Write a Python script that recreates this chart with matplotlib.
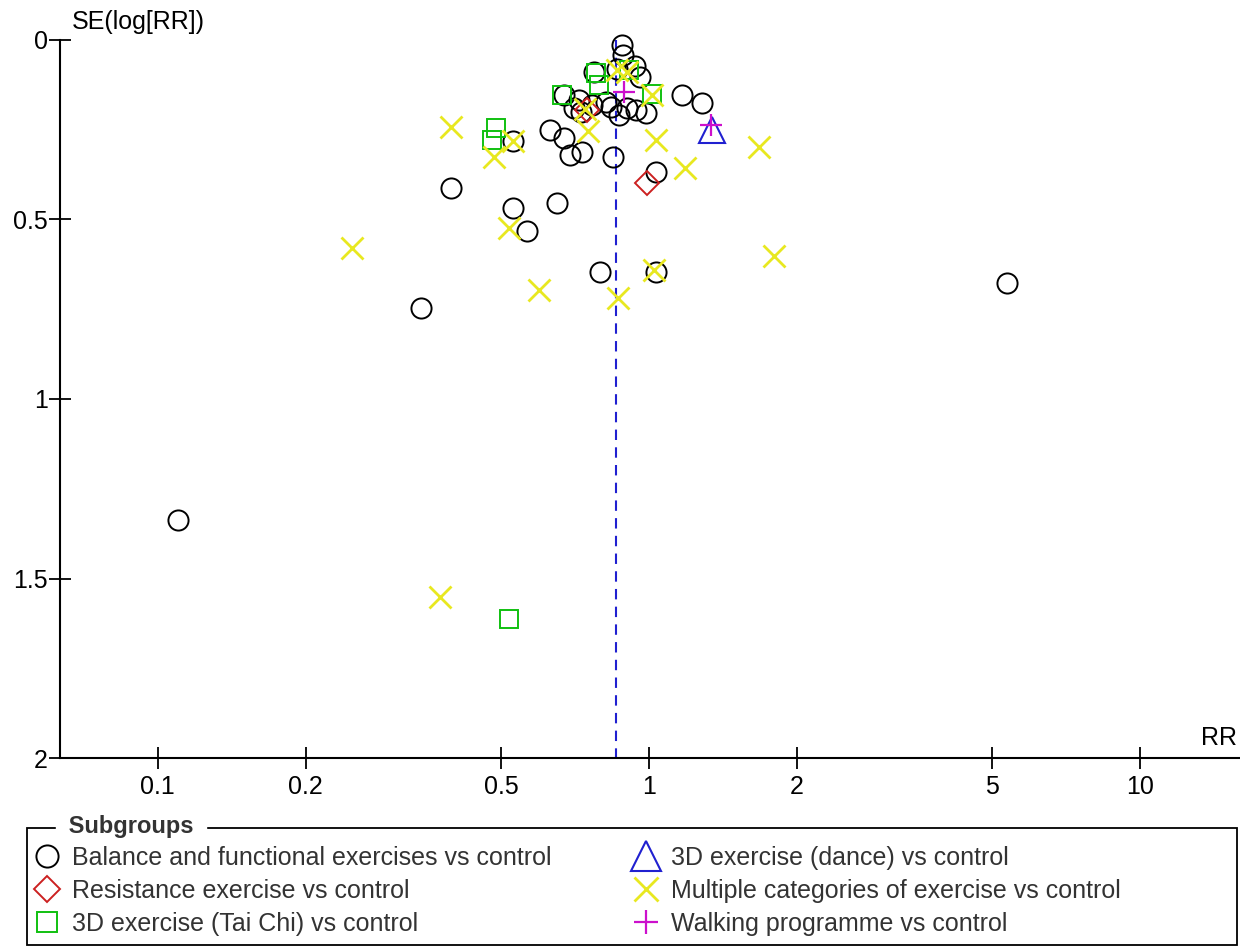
import matplotlib.pyplot as plt
from matplotlib.patches import Rectangle
from matplotlib.lines import Line2D

plt.rcParams['font.family'] = ['Liberation Sans', 'DejaVu Sans']

# risk ratios (RR) and standard errors of log RR per subgroup
balance_rr = [0.881, 0.885, 0.937, 0.959, 0.773, 0.672, 0.721, 0.704, 0.727, 0.766,
              0.818, 0.837, 0.869, 0.902, 0.941, 0.986, 1.167, 1.281, 0.629, 0.672,
              0.691, 0.731, 0.845, 1.033, 0.396, 0.650, 0.529, 0.565, 0.795, 1.033,
              0.344, 0.1098, 5.366, 0.529, 0.860]
balance_se = [0.015, 0.042, 0.072, 0.103, 0.089, 0.153, 0.167, 0.189, 0.201, 0.181,
              0.173, 0.187, 0.209, 0.189, 0.195, 0.203, 0.153, 0.175, 0.251, 0.273,
              0.320, 0.312, 0.326, 0.368, 0.412, 0.454, 0.468, 0.532, 0.646, 0.646,
              0.747, 1.337, 0.677, 0.281, 0.080]

resist_rr = [0.748, 0.991]
resist_se = [0.195, 0.398]

taichi_rr = [0.780, 0.791, 0.911, 1.014, 0.665, 0.489, 0.480, 0.519]
taichi_se = [0.092, 0.125, 0.084, 0.150, 0.153, 0.245, 0.279, 1.613]

dance_rr = [1.343]
dance_se = [0.250]

multi_rr = [0.396, 0.484, 0.529, 0.751, 0.740, 0.861, 0.902, 1.014, 1.033, 1.184,
            1.674, 1.795, 0.248, 0.519, 0.598, 0.865, 1.024, 0.376]
multi_se = [0.242, 0.326, 0.281, 0.253, 0.192, 0.084, 0.089, 0.153, 0.279, 0.357,
            0.298, 0.602, 0.579, 0.524, 0.696, 0.719, 0.641, 1.552]

walk_rr = [0.890, 1.337]
walk_se = [0.145, 0.237]

pooled_rr = 0.857

x_ticks = [0.1, 0.2, 0.5, 1, 2, 5, 10]
x_labels = ['0.1', '0.2', '0.5', '1', '2', '5', '10']
y_ticks = [0, 0.5, 1, 1.5, 2]
y_labels = ['0', '0.5', '1', '1.5', '2']

fig = plt.figure(figsize=(12.4, 9.5), dpi=100)
ax = fig.add_axes([0.0484, 0.2021, 0.9516, 0.7558])

ax.plot([pooled_rr, pooled_rr], [0, 2], color='#2020d0', lw=1.5, ls=(0, (5, 3.5)), zorder=1)

groups = [
    (balance_rr, balance_se, 'o', '#000000', 14.5, 1.4, 'Balance and functional exercises vs control'),
    (resist_rr, resist_se, 'D', '#cc2020', 12, 1.4, 'Resistance exercise vs control'),
    (taichi_rr, taichi_se, 's', '#10c010', 12.5, 1.4, '3D exercise (Tai Chi) vs control'),
    (dance_rr, dance_se, '^', '#2020d0', 19, 1.5, '3D exercise (dance) vs control'),
    (multi_rr, multi_se, 'x', '#e8e820', 15.5, 2.0, 'Multiple categories of exercise vs control'),
    (walk_rr, walk_se, '+', '#cc10cc', 16, 1.6, 'Walking programme vs control'),
]

handles = []
for rr, se, m, c, ms, mew, lab in groups:
    ax.plot(rr, se, ls='none', marker=m, ms=ms, mfc='none', mec=c, mew=mew, zorder=3, clip_on=False)
    handles.append(Line2D([], [], ls='none', marker=m, ms=ms * 1.1, mfc='none', mec=c, mew=mew, label=lab))

ax.set_xscale('log')
ax.set_xlim(0.0632, 16.0)
ax.set_ylim(2, 0)
ax.set_xticks(x_ticks)
ax.set_xticklabels(x_labels)
ax.minorticks_off()
ax.set_yticks(y_ticks)
ax.set_yticklabels(y_labels)
ax.tick_params(axis='both', direction='inout', length=16, width=1.3, labelsize=18, colors='#000000')
ax.tick_params(axis='x', pad=4)
ax.tick_params(axis='y', pad=1)
for s in ['top', 'right']:
    ax.spines[s].set_visible(False)
for s in ['left', 'bottom']:
    ax.spines[s].set_linewidth(1.5)

fig.text(72 / 1240, 1 - 22 / 950, 'SE(log[RR])', fontsize=18, ha='left', va='center')
fig.text(1237 / 1240, 1 - 738 / 950, 'RR', fontsize=18, ha='right', va='center')

# legend frame with the title breaking its top edge
fig.patches.append(Rectangle((27 / 1240, 1 - 945 / 950), 1210 / 1240, 117 / 950,
                             transform=fig.transFigure, fill=False, ec='#000000', lw=1.3))
fig.text(62 / 1240, 1 - 827 / 950, ' Subgroups ', fontsize=17, fontweight='bold',
         color='#333333', ha='left', va='center', backgroundcolor='white')

leg = fig.legend(handles=handles, ncol=2, loc='upper left', bbox_to_anchor=(34 / 1240, 1 - 846 / 950),
                 frameon=False, fontsize=18, handlelength=1.0, handletextpad=0.5,
                 labelspacing=0.36, columnspacing=3.3, borderaxespad=0, borderpad=0)
for t in leg.get_texts():
    t.set_color('#333333')

fig.savefig('out.png', dpi=100)
